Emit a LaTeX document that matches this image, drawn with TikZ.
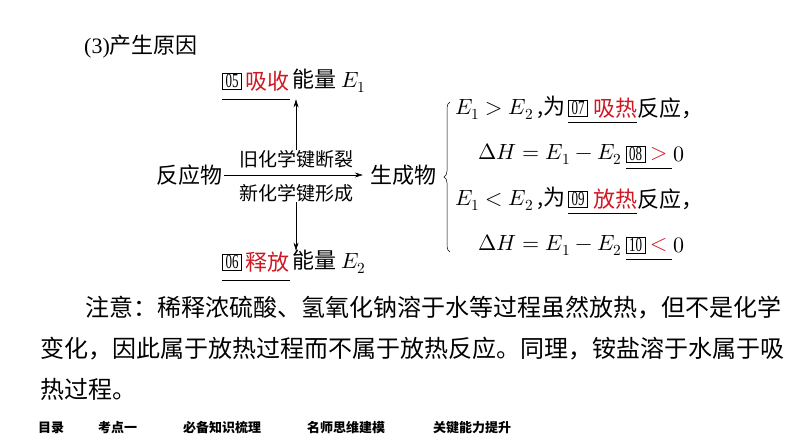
\documentclass[tikz,border=0pt]{standalone}
\usepackage{fontspec,amsmath,unicode-math}
\usetikzlibrary{arrows.meta,positioning,decorations.pathreplacing}
\setmainfont{Liberation Serif}
\newfontfamily\cjk{Noto Sans CJK SC}
\newfontfamily\numfont[FakeStretch=0.65]{Liberation Serif}
\definecolor{ansred}{RGB}{206,24,34}

\begin{document}
\begin{tikzpicture}[x=1pt,y=-1pt,
  txt/.style={inner sep=0pt,font=\cjk\fontsize{22}{22}\selectfont},
  small/.style={inner sep=0pt,font=\cjk\fontsize{19}{19}\selectfont},
  body/.style={inner sep=0pt,anchor=west,font=\cjk\fontsize{24}{24}\selectfont},
  foot/.style={inner sep=0pt,anchor=west,font=\cjk\bfseries\fontsize{13}{13}\selectfont},
  numbox/.style={draw,line width=0.5pt,inner sep=0pt,minimum width=19pt,minimum height=16pt,font=\numfont\fontsize{20}{20}\selectfont},
  ans/.style={txt,text=ansred},
  uline/.style={line width=0.6pt},
  arr/.style={-{Stealth[length=8pt,width=5pt]},line width=0.6pt}]
  \useasboundingbox (0,0) rectangle (794,447);

  \node[anchor=west,inner sep=0pt,font=\fontsize{22}{22}\selectfont] (head) at (84,47) {(3)\cjk 产生原因};

  \node[numbox] (n05) at (232,81) {05};
  \node[ans,right=4pt of n05] (xs) {吸收};
  \node[txt,right=2pt of xs] (e1) {能量 $E_1$};
  \draw[uline] (n05.south west) ++(0,10) coordinate (u1) -- (u1 -| xs.east);

  \node[txt] (rea) at (189,175) {反应物};
  \node[txt] (pro) at (403,175) {生成物};
  \node[small] (brk) at (296,159) {旧化学键断裂};
  \node[small] (frm) at (296,193) {新化学键形成};
  \draw[arr,shorten <=2pt,shorten >=7pt] (rea.east) -- (pro.west);
  \draw[arr,shorten >=8pt] (brk.north) -- (brk.north |- xs.south);

  \node[numbox] (n06) at (232,262) {06};
  \node[ans,right=4pt of n06] (sf) {释放};
  \node[txt,right=2pt of sf] (e2) {能量 $E_2$};
  \draw[uline] (n06.south west) ++(0,10) coordinate (u2) -- (u2 -| sf.east);
  \draw[arr,shorten >=1pt] (frm.south) -- (frm.south |- sf.north);

  \draw[decorate,decoration={brace,amplitude=6pt},line width=0.5pt] (450,252) -- (450,102);

  \node[txt,anchor=west] (c1) at (455,108) {$E_1>E_2$\,,为};
  \node[numbox,right=3pt of c1] (n07) {07};
  \node[ans,right=5pt of n07] (xr) {吸热};
  \node[txt,right=0pt of xr] (c1b) {反应，};
  \draw[uline] (n07.south west) ++(0,6.5) coordinate (u3) -- (u3 -| xr.east);

  \node[txt,anchor=west] (c2) at (478,154) {$\Delta H=E_1-E_2$};
  \node[numbox,right=4pt of c2] (n08) {08};
  \node[ans,right=5pt of n08] (gt) {$>$};
  \node[txt,right=5pt of gt] (z1) {$0$};
  \draw[uline] (n08.south west) ++(0,6) coordinate (u4) -- ([xshift=4pt]u4 -| gt.east);

  \node[txt,anchor=west] (c3) at (455,199) {$E_1<E_2$\,,为};
  \node[numbox,right=3pt of c3] (n09) {09};
  \node[ans,right=5pt of n09] (fr) {放热};
  \node[txt,right=0pt of fr] (c3b) {反应，};
  \draw[uline] (n09.south west) ++(0,6.5) coordinate (u5) -- (u5 -| fr.east);

  \node[txt,anchor=west] (c4) at (478,245) {$\Delta H=E_1-E_2$};
  \node[numbox,right=4pt of c4] (n10) {10};
  \node[ans,right=5pt of n10] (lt) {$<$};
  \node[txt,right=5pt of lt] (z2) {$0$};
  \draw[uline] (n10.south west) ++(0,6) coordinate (u6) -- ([xshift=4pt]u6 -| lt.east);

  \node[body] (p1) at (85,308) {注意：稀释浓硫酸、氢氧化钠溶于水等过程虽然放热，但不是化学};
  \node[body] (p2) at (40,349) {变化，因此属于放热过程而不属于放热反应。同理，铵盐溶于水属于吸};
  \node[body] (p3) at (40,389) {热过程。};

  \node[foot] (f1) at (38,428) {目录};
  \node[foot] (f2) at (98,428) {考点一};
  \node[foot] (f3) at (183,428) {必备知识梳理};
  \node[foot] (f4) at (307,428) {名师思维建模};
  \node[foot] (f5) at (433,428) {关键能力提升};
\end{tikzpicture}
\end{document}
